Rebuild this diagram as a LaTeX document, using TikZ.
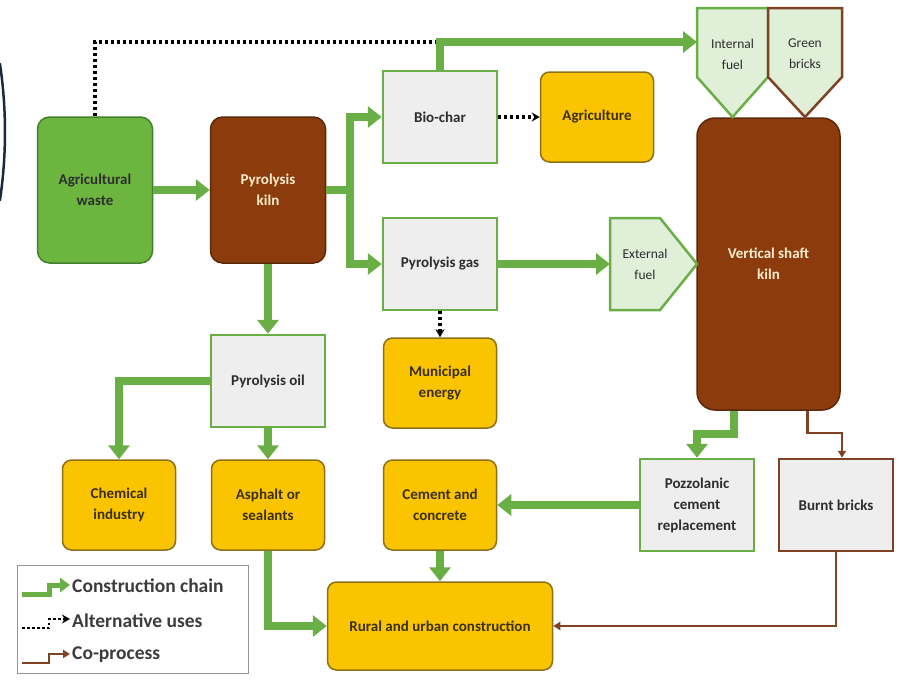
\documentclass[tikz,border=0pt]{standalone}
\usepackage{fontspec}
\setmainfont{Carlito}
\usetikzlibrary{arrows.meta}
\definecolor{chaingreen}{RGB}{106,174,70}
\definecolor{wastegreen}{RGB}{108,182,64}
\definecolor{wasteedge}{RGB}{66,128,44}
\definecolor{kilnbrown}{RGB}{140,60,12}
\definecolor{kilnedge}{RGB}{92,40,10}
\definecolor{cobrown}{RGB}{128,66,36}
\definecolor{boxgray}{RGB}{238,238,238}
\definecolor{useyellow}{RGB}{250,196,0}
\definecolor{useedge}{RGB}{140,112,24}
\definecolor{fuelfill}{RGB}{223,239,216}
\definecolor{inkgray}{RGB}{45,45,45}
\definecolor{navy}{RGB}{30,40,60}
\tikzstyle{every node}=[font=\bfseries\fontsize{15}{21}\selectfont, align=center, inner sep=0pt, text=inkgray]
\tikzstyle{source}=[draw=wasteedge, line width=1.5pt, fill=wastegreen, rounded corners=12pt, minimum width=115pt, minimum height=146pt]
\tikzstyle{kiln}=[draw=kilnedge, line width=1.5pt, fill=kilnbrown, rounded corners=12pt, text={rgb,255:red,255;green,236;blue,205}]
\tikzstyle{product}=[draw=chaingreen, line width=2.5pt, fill=boxgray, minimum width=114pt, minimum height=92pt]
\tikzstyle{use}=[draw=useedge, line width=1.5pt, fill=useyellow, rounded corners=9pt, minimum width=113pt, minimum height=90pt, text={rgb,255:red,60;green,48;blue,10}]
\tikzstyle{fuel}=[draw=chaingreen, line width=2.5pt, fill=fuelfill, line join=miter]
\tikzstyle{fueltext}=[font=\fontsize{13.5}{21}\selectfont]
\tikzstyle{chain}=[draw=chaingreen, line width=8pt, -{Triangle[length=14pt,width=21pt]}]
\tikzstyle{alt}=[draw=black, line width=3.5pt, dash pattern=on 3pt off 3pt]
\tikzstyle{altarrow}=[-{Stealth[length=8pt,width=9pt]}]
\tikzstyle{coproc}=[draw=cobrown, line width=2.5pt, -{Triangle[length=7pt,width=8pt]}]
\tikzstyle{legendtext}=[anchor=west, font=\bfseries\fontsize{19.5}{22}\selectfont, text={rgb,255:red,60;green,60;blue,60}]

\begin{document}
\begin{tikzpicture}[x=1pt, y=-1pt]
  \useasboundingbox (0,0) rectangle (909,686);
  % cut-off frame on the left edge
  \draw[navy, line width=2.5pt] (-460,132) ++(-8.5:465) arc[start angle=-8.5, end angle=8.5, radius=465];

  % sources and kilns
  \node[source] (waste) at (95,190) {Agricultural\\waste};
  \node[kiln, minimum width=115pt, minimum height=146pt] (pyrokiln) at (268,190) {Pyrolysis\\kiln};
  \node[kiln, rounded corners=18pt, minimum width=143pt, minimum height=292pt] (shaft) at (768.5,264) {Vertical shaft\\kiln};

  % products
  \node[product] (biochar) at (440,117) {Bio-char};
  \node[product] (gas) at (440,264) {Pyrolysis gas};
  \node[product] (oil) at (268,381) {Pyrolysis oil};
  \node[product] (pozzo) at (697,505) {Pozzolanic\\cement\\replacement};
  \node[product, draw=cobrown] (burnt) at (836,505) {Burnt bricks};

  % uses
  \node[use] (agri) at (597,117) {Agriculture};
  \node[use] (municipal) at (440,383) {Municipal\\energy};
  \node[use] (chem) at (119,505) {Chemical\\industry};
  \node[use] (asphalt) at (268,505) {Asphalt or\\sealants};
  \node[use] (cement) at (440,505) {Cement and\\concrete};
  \node[use, minimum width=225pt, minimum height=88pt] (rural) at (440,626) {Rural and urban construction};

  % fuels
  \draw[fuel] (697,8) -- (768,8) -- (768,77) -- (732.5,117) -- (697,77) -- cycle;
  \draw[fuel, draw=cobrown] (768,8) -- (842,8) -- (842,77) -- (805,117) -- (768,77) -- cycle;
  \draw[fuel] (610,218) -- (660,218) -- (697,264) -- (660,310) -- (610,310) -- cycle;
  \node[fueltext] (intfuel) at (732.5,54) {Internal\\fuel};
  \node[fueltext] (greenbricks) at (805,54) {Green\\bricks};
  \node[fueltext] (extfuel) at (645,264) {External\\fuel};

  \coordinate (split) at (350,190);
  \coordinate (feedtop) at (440,42);
  \coordinate (intfuelin) at (697,42);
  \coordinate (extfuelin) at (610,264);

  % alternative uses
  \draw[alt] (waste.north) |- (feedtop);
  \draw[alt, altarrow] (biochar.east) -- (agri.west);
  \draw[alt, altarrow] (gas.south) -- (municipal.north);

  % construction chain
  \draw[chain] (waste) -- (pyrokiln);
  \draw[chain] (pyrokiln.east) -- (split) |- (biochar.west);
  \draw[chain] (split) |- (gas.west);
  \draw[chain] (biochar.north) -- (feedtop) -- (intfuelin);
  \draw[chain] (gas.east) -- (extfuelin);
  \draw[chain] (pyrokiln.south) -- (oil.north);
  \draw[chain] (oil.west) -| (chem.north);
  \draw[chain] (oil.south) -- (asphalt.north);
  \draw[chain] (asphalt.south) |- (rural.west);
  \draw[chain] (cement.south) -- (rural.north);
  \draw[chain] (pozzo.west) -- (cement.east);
  \draw[chain] ([xshift=-35pt]shaft.south) |- ([yshift=24pt]pozzo.north) -- (pozzo.north);

  % co-process
  \draw[coproc] ([xshift=39pt]shaft.south) |- ([xshift=6pt,yshift=25pt]burnt.north) -- ([xshift=6pt]burnt.north);
  \draw[coproc] (burnt.south) |- (rural.east);

  % legend
  \node[draw={rgb,255:red,150;green,150;blue,150}, line width=1pt, fill=white, minimum width=231pt, minimum height=108pt] (legend) at (132.5,619) {};
  \draw[chain, line width=5pt, -{Triangle[length=10pt,width=14pt]}] (22,594) -- (49,594) -- (49,585) -- (70,585);
  \draw[alt, line width=2.5pt, dash pattern=on 2.5pt off 2.5pt, altarrow] (22,628) -- (49,628) -- (49,619) -- (70,619);
  \draw[coproc] (22,663) -- (49,663) -- (49,654) -- (70,654);
  \node[legendtext] (legchain) at (72,586) {Construction chain};
  \node[legendtext] (legalt) at (72,621) {Alternative uses};
  \node[legendtext] (legco) at (72,655) {Co-process};
\end{tikzpicture}
\end{document}
